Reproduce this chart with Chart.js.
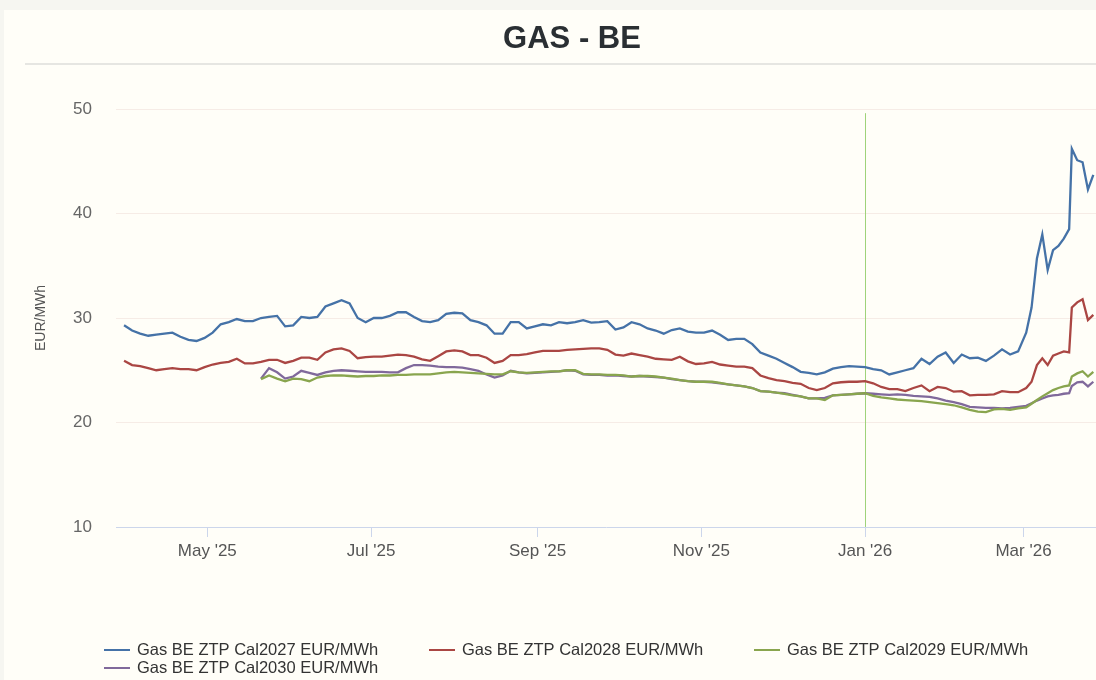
<!DOCTYPE html>
<html>
<head>
<meta charset="utf-8">
<title>GAS - BE</title>
<script src="https://cdn.jsdelivr.net/npm/chart.js@4.4.1/dist/chart.umd.min.js"></script>
<style>
    html, body { margin: 0; padding: 0; background: #f6f6f1; }
    #chartWrap { position: absolute; left: 0; top: 0; width: 1096px; height: 680px; }
</style>
</head>
<body>
<div id="chartWrap"><canvas id="gasChart" width="1096" height="680"></canvas></div>
<script>
// trade dates
const dates = [
    '2025-03-31','2025-04-03','2025-04-06','2025-04-09','2025-04-12','2025-04-15','2025-04-18','2025-04-21','2025-04-24','2025-04-27',
    '2025-04-30','2025-05-03','2025-05-06','2025-05-09','2025-05-12','2025-05-15','2025-05-18','2025-05-21','2025-05-24','2025-05-27',
    '2025-05-30','2025-06-02','2025-06-05','2025-06-08','2025-06-11','2025-06-14','2025-06-17','2025-06-20','2025-06-23','2025-06-26',
    '2025-06-29','2025-07-02','2025-07-05','2025-07-08','2025-07-11','2025-07-14','2025-07-17','2025-07-20','2025-07-23','2025-07-26',
    '2025-07-29','2025-08-01','2025-08-04','2025-08-07','2025-08-10','2025-08-13','2025-08-16','2025-08-19','2025-08-22','2025-08-25',
    '2025-08-28','2025-08-31','2025-09-03','2025-09-06','2025-09-09','2025-09-12','2025-09-15','2025-09-18','2025-09-21','2025-09-24',
    '2025-09-27','2025-09-30','2025-10-03','2025-10-06','2025-10-09','2025-10-12','2025-10-15','2025-10-18','2025-10-21','2025-10-24',
    '2025-10-27','2025-10-30','2025-11-02','2025-11-05','2025-11-08','2025-11-11','2025-11-14','2025-11-17','2025-11-20','2025-11-23',
    '2025-11-26','2025-11-29','2025-12-02','2025-12-05','2025-12-08','2025-12-11','2025-12-14','2025-12-17','2025-12-20','2025-12-23',
    '2025-12-26','2025-12-29','2026-01-01','2026-01-04','2026-01-07','2026-01-10','2026-01-13','2026-01-16','2026-01-19','2026-01-22',
    '2026-01-25','2026-01-28','2026-01-31','2026-02-03','2026-02-06','2026-02-09','2026-02-12','2026-02-15','2026-02-18','2026-02-21',
    '2026-02-24','2026-02-27','2026-03-02','2026-03-04','2026-03-06','2026-03-08','2026-03-10','2026-03-12','2026-03-14','2026-03-16',
    '2026-03-18','2026-03-19','2026-03-21','2026-03-23','2026-03-25','2026-03-27'
];

const cal2027 = [
    29.3, 28.8, 28.5, 28.3, 28.4, 28.5, 28.6, 28.2, 27.9, 27.8,
    28.1, 28.6, 29.4, 29.6, 29.9, 29.7, 29.7, 30.0, 30.1, 30.2,
    29.2, 29.3, 30.1, 30.0, 30.1, 31.1, 31.4, 31.7, 31.4, 30.0,
    29.6, 30.0, 30.0, 30.2, 30.55, 30.55, 30.1, 29.7, 29.6, 29.8,
    30.4, 30.5, 30.45, 29.8, 29.6, 29.3, 28.5, 28.5, 29.6, 29.6,
    29.0, 29.2, 29.4, 29.3, 29.6, 29.5, 29.6, 29.8, 29.55, 29.6,
    29.7, 28.9, 29.1, 29.6, 29.4, 29.0, 28.8, 28.5, 28.85, 29.0,
    28.7, 28.6, 28.6, 28.8, 28.4, 27.9, 28.0, 28.0, 27.5, 26.7,
    26.4, 26.1, 25.7, 25.3, 24.85, 24.75, 24.6, 24.8, 25.15, 25.3,
    25.4, 25.35, 25.3, 25.1, 25.0, 24.6, 24.8, 25.0, 25.2, 26.1,
    25.6, 26.3, 26.7, 25.7, 26.5, 26.15, 26.2, 25.9, 26.4, 27.0,
    26.5, 26.8, 28.6, 31.0, 35.7, 38.0, 34.6, 36.5, 36.9, 37.6,
    38.5, 46.2, 45.1, 44.9, 42.3, 43.7
];

const cal2028 = [
    25.9, 25.5, 25.4, 25.2, 25.0, 25.1, 25.2, 25.1, 25.1, 25.0,
    25.3, 25.55, 25.7, 25.8, 26.1, 25.65, 25.65, 25.8, 26.0, 26.0,
    25.7, 25.9, 26.2, 26.2, 26.0, 26.7, 27.0, 27.1, 26.85, 26.15,
    26.25, 26.3, 26.3, 26.4, 26.5, 26.45, 26.3, 26.05, 25.9, 26.35,
    26.8, 26.9, 26.8, 26.45, 26.45, 26.2, 25.7, 25.9, 26.45, 26.45,
    26.55, 26.7, 26.85, 26.85, 26.85, 26.95, 27.0, 27.05, 27.1, 27.1,
    26.95, 26.5, 26.4, 26.6, 26.45, 26.3, 26.1, 26.05, 26.0, 26.3,
    25.85, 25.6, 25.65, 25.8, 25.55, 25.45, 25.35, 25.35, 25.2, 24.5,
    24.25, 24.05, 23.95, 23.8, 23.7, 23.3, 23.1, 23.3, 23.75, 23.85,
    23.9, 23.9, 23.95, 23.75, 23.4, 23.2, 23.2, 23.0, 23.3, 23.55,
    23.0, 23.4, 23.3, 22.95, 23.0, 22.6, 22.65, 22.65, 22.7, 23.0,
    22.9, 22.9, 23.3, 23.9, 25.5, 26.15, 25.5, 26.4, 26.6, 26.8,
    26.7, 31.0, 31.5, 31.8, 29.8, 30.3
];

const cal2029 = [
    null, null, null, null, null, null, null, null, null, null,
    null, null, null, null, null, null, null, 24.15, 24.5, 24.2,
    23.95, 24.2, 24.15, 23.95, 24.3, 24.45, 24.5, 24.5, 24.45, 24.4,
    24.45, 24.45, 24.5, 24.5, 24.55, 24.55, 24.6, 24.6, 24.6, 24.7,
    24.8, 24.85, 24.8, 24.75, 24.7, 24.65, 24.6, 24.6, 24.9, 24.8,
    24.75, 24.8, 24.85, 24.9, 24.9, 25.0, 25.0, 24.65, 24.6, 24.6,
    24.55, 24.55, 24.5, 24.4, 24.45, 24.45, 24.4, 24.3, 24.2, 24.05,
    23.95, 23.9, 23.9, 23.9, 23.8, 23.65, 23.55, 23.45, 23.3, 23.0,
    22.95, 22.85, 22.75, 22.6, 22.5, 22.3, 22.3, 22.15, 22.6, 22.65,
    22.7, 22.75, 22.8, 22.55, 22.4, 22.3, 22.2, 22.15, 22.1, 22.05,
    21.95, 21.85, 21.75, 21.65, 21.45, 21.2, 21.05, 21.0, 21.25, 21.3,
    21.2, 21.35, 21.45, 21.8, 22.15, 22.5, 22.8, 23.1, 23.3, 23.45,
    23.55, 24.4, 24.7, 24.9, 24.4, 24.85
];

const cal2030 = [
    null, null, null, null, null, null, null, null, null, null,
    null, null, null, null, null, null, null, 24.2, 25.2, 24.8,
    24.2, 24.4, 24.95, 24.75, 24.55, 24.8, 24.95, 25.0, 24.95, 24.9,
    24.85, 24.85, 24.85, 24.8, 24.8, 25.2, 25.5, 25.5, 25.45, 25.35,
    25.3, 25.3, 25.25, 25.1, 24.95, 24.6, 24.3, 24.5, 24.95, 24.8,
    24.7, 24.75, 24.8, 24.85, 24.9, 25.0, 24.95, 24.6, 24.55, 24.55,
    24.5, 24.5, 24.45, 24.4, 24.45, 24.4, 24.35, 24.3, 24.15, 24.05,
    23.95, 23.9, 23.9, 23.85, 23.75, 23.65, 23.55, 23.45, 23.3, 23.0,
    22.95, 22.85, 22.8, 22.65, 22.5, 22.3, 22.3, 22.35, 22.6, 22.65,
    22.7, 22.75, 22.8, 22.75, 22.7, 22.65, 22.7, 22.65, 22.55, 22.5,
    22.45, 22.3, 22.1, 21.95, 21.75, 21.5, 21.45, 21.4, 21.4, 21.35,
    21.4, 21.5, 21.6, 21.85, 22.1, 22.3, 22.5, 22.6, 22.65, 22.75,
    22.8, 23.5, 23.85, 23.9, 23.45, 23.9
];

const seriesNames = [
    'Gas BE ZTP Cal2027 EUR/MWh',
    'Gas BE ZTP Cal2028 EUR/MWh',
    'Gas BE ZTP Cal2029 EUR/MWh',
    'Gas BE ZTP Cal2030 EUR/MWh'
];
const seriesColors = ['#4572A7', '#AA4643', '#89A54E', '#80699B'];

const tickDates = ['2025-05-01', '2025-07-01', '2025-09-01', '2025-11-01', '2026-01-01', '2026-03-01'];
const tickLabels = ["May '25", "Jul '25", "Sep '25", "Nov '25", "Jan '26", "Mar '26"];
const yTicks = [10, 20, 30, 40, 50];

const axisStart = '2025-03-28';
const axisEnd = '2026-03-28';
const markerDate = '2026-01-01';

const FONT = "'Liberation Sans', Arial, sans-serif";
const toMs = s => Date.parse(s + 'T00:00:00Z');

// page background, card, title and rule under it
const frameAndTitle = {
    id: 'frameAndTitle',
    beforeDraw(chart) {
        const ctx = chart.ctx;
        ctx.save();
        ctx.fillStyle = '#f6f6f1';
        ctx.fillRect(0, 0, chart.width, chart.height);
        ctx.fillStyle = '#fffef8';
        ctx.fillRect(4, 10, chart.width - 4, chart.height - 10);
        ctx.strokeStyle = '#e6e6e2';
        ctx.lineWidth = 2;
        ctx.beginPath();
        ctx.moveTo(25, 64);
        ctx.lineTo(chart.width, 64);
        ctx.stroke();
        ctx.fillStyle = '#2a2f33';
        ctx.font = 'bold 31px ' + FONT;
        ctx.textAlign = 'center';
        ctx.textBaseline = 'middle';
        ctx.fillText('GAS - BE', 572, 39);
        ctx.restore();
    }
};

// thin green line on the year change
const yearMarker = {
    id: 'yearMarker',
    beforeDatasetsDraw(chart) {
        const x = Math.round(chart.scales.x.getPixelForValue(toMs(markerDate))) + 0.5;
        const y = chart.scales.y;
        const ctx = chart.ctx;
        ctx.save();
        ctx.strokeStyle = '#9fd37a';
        ctx.lineWidth = 1;
        ctx.beginPath();
        ctx.moveTo(x, y.getPixelForValue(49.6));
        ctx.lineTo(x, y.bottom);
        ctx.stroke();
        ctx.restore();
    }
};

// legend in fixed columns, like the source
const gridLegend = {
    id: 'gridLegend',
    afterDraw(chart) {
        const ctx = chart.ctx;
        ctx.save();
        ctx.font = '16.5px ' + FONT;
        ctx.textBaseline = 'middle';
        ctx.textAlign = 'left';
        chart.data.datasets.forEach((ds, i) => {
            const x = 104 + (i % 3) * 325;
            const y = 650 + Math.floor(i / 3) * 18;
            ctx.strokeStyle = ds.borderColor;
            ctx.lineWidth = 2;
            ctx.beginPath();
            ctx.moveTo(x, y);
            ctx.lineTo(x + 26, y);
            ctx.stroke();
            ctx.fillStyle = '#333333';
            ctx.fillText(ds.label, x + 33, y);
        });
        ctx.restore();
    }
};

const buildSeries = values => dates.map((d, i) => ({ x: toMs(d), y: values[i] }));

new Chart(document.getElementById('gasChart'), {
    type: 'line',
    data: {
        datasets: [cal2027, cal2028, cal2029, cal2030].map((vals, i) => ({
            label: seriesNames[i],
            data: buildSeries(vals),
            borderColor: seriesColors[i],
            backgroundColor: seriesColors[i],
            borderWidth: 2.3,
            pointRadius: 0,
            tension: 0,
            spanGaps: false
        }))
    },
    options: {
        responsive: false,
        animation: false,
        parsing: false,
        layout: { padding: { top: 109, left: 0, right: 0, bottom: 113 } },
        plugins: {
            legend: { display: false },
            title: { display: false },
            tooltip: { enabled: false }
        },
        scales: {
            x: {
                type: 'linear',
                min: toMs(axisStart),
                max: toMs(axisEnd),
                afterBuildTicks: scale => { scale.ticks = tickDates.map(d => ({ value: toMs(d) })); },
                afterFit: scale => { scale.height = 40; },
                grid: { drawOnChartArea: false, drawTicks: true, tickLength: 10, color: '#ccd6eb' },
                border: { display: true, color: '#ccd6eb', width: 1 },
                ticks: {
                    autoSkip: false,
                    maxRotation: 0,
                    padding: 4,
                    color: '#555555',
                    font: { family: FONT, size: 17 },
                    callback: value => tickLabels[tickDates.findIndex(d => toMs(d) === value)]
                }
            },
            y: {
                min: 10,
                max: 50,
                afterBuildTicks: scale => { scale.ticks = yTicks.map(v => ({ value: v })); },
                afterFit: scale => { scale.width = 116; },
                grid: {
                    drawTicks: false,
                    color: ctx => (ctx.tick && ctx.tick.value === 10) ? 'rgba(0,0,0,0)' : '#f6ece6'
                },
                border: { display: false },
                ticks: {
                    padding: 24,
                    color: '#666666',
                    font: { family: FONT, size: 17 }
                },
                title: {
                    display: true,
                    text: 'EUR/MWh',
                    color: '#555555',
                    font: { family: FONT, size: 14 },
                    padding: { top: 33, bottom: 0 }
                }
            }
        }
    },
    plugins: [frameAndTitle, yearMarker, gridLegend]
});
</script>
</body>
</html>
